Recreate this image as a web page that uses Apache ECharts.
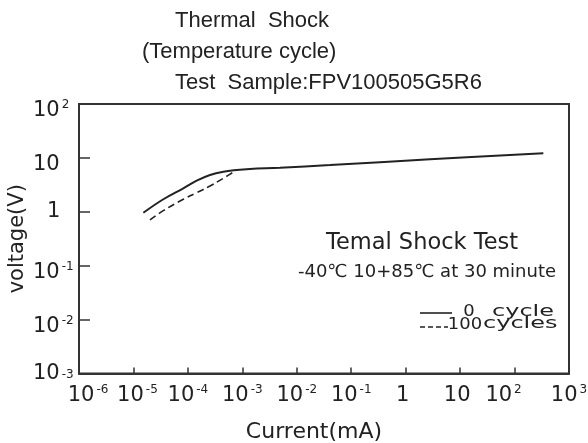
<!DOCTYPE html>
<html><head><meta charset="utf-8">
<script src="https://cdn.jsdelivr.net/npm/echarts@6/dist/echarts.min.js"></script>
<style>html,body{margin:0;padding:0;background:#fff}#c{width:588px;height:443px}</style>
</head><body><div id="c"></div>
<script>
// tick exponents (labels 10^n)
const xExponents = [-6, -5, -4, -3, -2, -1, 0, 1, 2, 3];
const yExponents = [-3, -2, -1, 0, 1, 2];
// 0 cycle (solid)
const solidI = [1.52e-5, 3.54e-5, 8.24e-5, 1.45e-4, 2.55e-4, 4.48e-4, 7.89e-4, 1.38e-3, 4.92e-3, 0.0408, 2.8, 338];
const solidV = [0.96, 1.71, 2.73, 3.78, 4.82, 5.55, 5.96, 6.22, 6.58, 7.38, 9.42, 12.2];
// 100 cycles (dashed)
const dashI = [2.01e-5, 3.54e-5, 8.24e-5, 1.45e-4, 2.55e-4, 4.48e-4, 7.89e-4];
const dashV = [0.705, 1.05, 1.71, 2.26, 3.01, 4.18, 5.96];

const FONT = 'DejaVu Sans';
const INK = '#222';
const pair = (a, b) => a.map((v, i) => [v, b[i]]);
const base = {fontSize: 21, fontFamily: FONT, color: INK, lineHeight: 24};
const rich = {
  b: base,
  f: Object.assign({}, base, {padding: [0, 0, 0, 18]}),   // first x label nudged right
  g: Object.assign({}, base, {padding: [0, 0, 0, 8]}),    // 10^-5 nudged right
  q: Object.assign({}, base, {padding: [0, 0, 14, 0]}),   // y bottom label
  p: Object.assign({}, base, {padding: [0, 0, 14, 14]}),  // y "1"
  s: {fontSize: 12, fontFamily: FONT, color: INK, lineHeight: 13, verticalAlign: 'top', padding: [0, 0, 0, 2]},
  r: {fontSize: 12, fontFamily: FONT, color: INK, lineHeight: 13, verticalAlign: 'top', padding: [0, 22, 0, 2]}
};
function xLabel(v) {
  const e = Math.round(Math.log10(v));
  if (e === 0) return '{b|1}{s| }';
  if (e === 1) return '{b|10}{s| }';
  if (e === xExponents[0]) return '{f|10}{s|' + e + '}';
  if (e === -5) return '{g|10}{s|' + e + '}';
  if (e === 2) return '{b|10}{r|' + e + '}';
  return '{b|10}{s|' + e + '}';
}
function yLabel(v) {
  const e = Math.round(Math.log10(v));
  if (e === 0) return '{p|1}';
  if (e === 1) return '{b|10}';
  if (e === yExponents[0]) return '{q|10}{s|' + e + '}';
  return '{b|10}{s|' + e + '}';
}
const chart = echarts.init(document.getElementById('c'));
chart.setOption({
  animation: false,
  backgroundColor: '#fff',
  title: [
    {text: 'Thermal  Shock', left: 170, top: 5, textStyle: {fontFamily: 'Liberation Sans', fontWeight: 'normal', fontSize: 22, color: INK}},
    {text: '(Temperature cycle)', left: 137, top: 36, textStyle: {fontFamily: 'Liberation Sans', fontWeight: 'normal', fontSize: 22, color: INK}},
    {text: 'Test  Sample:FPV100505G5R6', left: 170, top: 67, textStyle: {fontFamily: 'Liberation Sans', fontWeight: 'normal', fontSize: 22, color: INK}}
  ],
  grid: {left: 79, right: 19, top: 104, bottom: 69.5, outerBoundsMode: 'none', containLabel: false,
    show: true, borderColor: '#333', borderWidth: 2, backgroundColor: 'transparent'},
  xAxis: {
    type: 'log', logBase: 10, min: Math.pow(10, xExponents[0]), max: Math.pow(10, xExponents[xExponents.length - 1]), interval: 1,
    name: 'Current(mA)', nameLocation: 'middle', nameGap: 48, nameMoveOverlap: false,
    nameTextStyle: {fontFamily: FONT, fontSize: 22, color: INK, padding: [0, 20, 0, 0]},
    axisLine: {lineStyle: {color: '#333', width: 2}},
    axisTick: {inside: true, length: 6, lineStyle: {color: '#333', width: 1.5}},
    minorTick: {show: false}, splitLine: {show: false},
    axisLabel: {margin: 10, hideOverlap: false, formatter: xLabel, rich: rich, showMinLabel: true, showMaxLabel: true}
  },
  yAxis: {
    type: 'log', logBase: 10, min: Math.pow(10, yExponents[0]), max: Math.pow(10, yExponents[yExponents.length - 1]), interval: 1,
    name: 'voltage(V)', nameLocation: 'middle', nameGap: 51, nameMoveOverlap: false,
    nameTextStyle: {fontFamily: FONT, fontSize: 21, color: INK},
    axisLine: {lineStyle: {color: '#333', width: 2}},
    axisTick: {inside: true, length: 11, lineStyle: {color: '#333', width: 1.5}},
    minorTick: {show: false}, splitLine: {show: false},
    axisLabel: {margin: 46, align: 'left', padding: [14, 0, 0, 0], hideOverlap: false, rich: rich, showMinLabel: true, showMaxLabel: true,
      formatter: yLabel}
  },
  series: [
    {name: '0 cycle', type: 'line', data: pair(solidI, solidV), smooth: 0.4, symbol: 'none',
      lineStyle: {color: INK, width: 2}},
    {name: '100 cycles', type: 'line', data: pair(dashI, dashV), smooth: 0.4, symbol: 'none',
      lineStyle: {color: INK, width: 1.6, type: [7, 4]}}
  ],
  graphic: [
    {type: 'text', x: 422, y: 243, style: {text: 'Temal Shock Test', textAlign: 'center', textVerticalAlign: 'middle', fontSize: 22.5, fontFamily: FONT, fill: INK}},
    {type: 'text', x: 427, y: 272, style: {text: '-40℃ 10+85℃ at 30 minute', textAlign: 'center', textVerticalAlign: 'middle', fontSize: 18, fontFamily: FONT, fill: INK}},
    {type: 'line', shape: {x1: 420, y1: 313, x2: 452, y2: 313}, style: {stroke: INK, lineWidth: 1.6}},
    {type: 'line', shape: {x1: 420, y1: 327, x2: 448, y2: 327}, style: {stroke: INK, lineWidth: 1.4, lineDash: [5, 3]}},
    {type: 'text', x: 469, y: 312, scaleX: 1.2, style: {text: '0', textAlign: 'center', textVerticalAlign: 'middle', fontSize: 15, fontFamily: FONT, fill: INK}},
    {type: 'text', x: 492, y: 312, scaleX: 1.6, style: {text: 'cycle', textAlign: 'left', textVerticalAlign: 'middle', fontSize: 15, fontFamily: FONT, fill: INK}},
    {type: 'text', x: 465, y: 325, scaleX: 1.2, style: {text: '100', textAlign: 'center', textVerticalAlign: 'middle', fontSize: 15, fontFamily: FONT, fill: INK}},
    {type: 'text', x: 483, y: 324, scaleX: 1.6, style: {text: 'cycles', textAlign: 'left', textVerticalAlign: 'middle', fontSize: 15, fontFamily: FONT, fill: INK}}
  ]
});
</script></body></html>
